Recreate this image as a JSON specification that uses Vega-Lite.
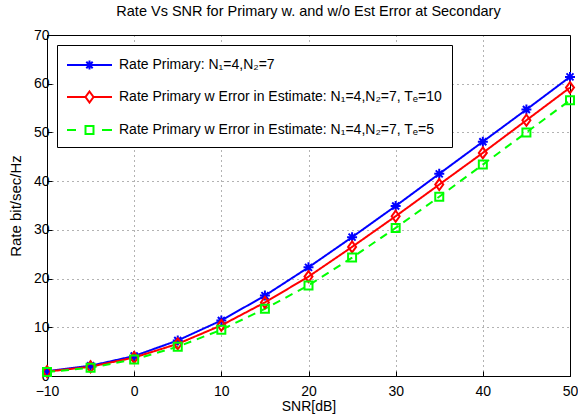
{
  "$schema": "https://vega.github.io/schema/vega-lite/v6.json",
  "width": 523,
  "height": 341,
  "autosize": "none",
  "padding": {"left": 47, "top": 35, "right": 8, "bottom": 39},
  "background": "white",
  "title": {"text": "Rate Vs SNR for Primary w. and w/o Est Error at Secondary", "fontSize": 14.5, "fontWeight": "normal", "font": "Liberation Sans", "offset": 9, "color": "black"},
  "config": {
    "font": "Liberation Sans",
    "view": {"stroke": "black", "strokeWidth": 1},
    "axis": {
      "labelFont": "Liberation Sans", "labelFontSize": 14, "labelColor": "black", "labelFlush": false, "labelOverlap": false,
      "titleFont": "Liberation Sans", "titleFontSize": 15, "titleFontWeight": "normal", "titleColor": "black",
      "domainColor": "black", "tickColor": "black", "tickSize": -5, "labelPadding": 4,
      "grid": true, "gridColor": "black", "gridDash": [1, 4], "gridOpacity": 0.6
    }
  },
  "data": {"values": [
    {"snr": -10, "rate": 1.0, "s": "A"}, {"snr": -5, "rate": 2.1, "s": "A"}, {"snr": 0, "rate": 4.1, "s": "A"},
    {"snr": 5, "rate": 7.3, "s": "A"}, {"snr": 10, "rate": 11.4, "s": "A"}, {"snr": 15, "rate": 16.5, "s": "A"},
    {"snr": 20, "rate": 22.3, "s": "A"}, {"snr": 25, "rate": 28.5, "s": "A"}, {"snr": 30, "rate": 34.9, "s": "A"},
    {"snr": 35, "rate": 41.5, "s": "A"}, {"snr": 40, "rate": 48.1, "s": "A"}, {"snr": 45, "rate": 54.7, "s": "A"},
    {"snr": 50, "rate": 61.4, "s": "A"},
    {"snr": -10, "rate": 0.9, "s": "B"}, {"snr": -5, "rate": 1.9, "s": "B"}, {"snr": 0, "rate": 3.8, "s": "B"},
    {"snr": 5, "rate": 6.6, "s": "B"}, {"snr": 10, "rate": 10.4, "s": "B"}, {"snr": 15, "rate": 15.1, "s": "B"},
    {"snr": 20, "rate": 20.4, "s": "B"}, {"snr": 25, "rate": 26.5, "s": "B"}, {"snr": 30, "rate": 32.8, "s": "B"},
    {"snr": 35, "rate": 39.3, "s": "B"}, {"snr": 40, "rate": 45.8, "s": "B"}, {"snr": 45, "rate": 52.5, "s": "B"},
    {"snr": 50, "rate": 59.2, "s": "B"},
    {"snr": -10, "rate": 0.8, "s": "C"}, {"snr": -5, "rate": 1.7, "s": "C"}, {"snr": 0, "rate": 3.4, "s": "C"},
    {"snr": 5, "rate": 6.0, "s": "C"}, {"snr": 10, "rate": 9.5, "s": "C"}, {"snr": 15, "rate": 13.8, "s": "C"},
    {"snr": 20, "rate": 18.6, "s": "C"}, {"snr": 25, "rate": 24.3, "s": "C"}, {"snr": 30, "rate": 30.4, "s": "C"},
    {"snr": 35, "rate": 36.8, "s": "C"}, {"snr": 40, "rate": 43.4, "s": "C"}, {"snr": 45, "rate": 50.0, "s": "C"},
    {"snr": 50, "rate": 56.6, "s": "C"}
  ]},
  "encoding": {
    "x": {"field": "snr", "type": "quantitative", "title": "SNR[dB]", "scale": {"domain": [-10, 50], "nice": false}, "axis": {"values": [-10, 0, 10, 20, 30, 40, 50], "labelPadding": 13, "titlePadding": 1, "titleFontSize": 14}},
    "y": {"field": "rate", "type": "quantitative", "title": "Rate bit/sec/Hz", "scale": {"domain": [0, 70], "nice": false}, "axis": {"values": [0, 10, 20, 30, 40, 50, 60, 70], "labelPadding": 3, "titlePadding": 10}}
  },
  "layer": [
    {
      "mark": {"type": "line", "strokeWidth": 2},
      "encoding": {
        "color": {"field": "s", "type": "nominal", "scale": {"domain": ["A", "B", "C"], "range": ["#0000ff", "#ff0000", "#00ff00"]}, "legend": null},
        "strokeDash": {"field": "s", "type": "nominal", "scale": {"domain": ["A", "B", "C"], "range": [[1, 0], [1, 0], [8, 6]]}, "legend": null}
      }
    },
    {
      "mark": {"type": "point", "filled": false, "strokeWidth": 2, "size": 100, "opacity": 1},
      "encoding": {
        "color": {"field": "s", "type": "nominal", "scale": {"domain": ["A", "B", "C"], "range": ["#0000ff", "#ff0000", "#00ff00"]}, "legend": null},
        "shape": {"field": "s", "type": "nominal", "scale": {"domain": ["A", "B", "C"], "range": [
          "M-1,0L1,0M0,-1L0,1M-0.7,-0.7L0.7,0.7M-0.7,0.7L0.7,-0.7",
          "M0,-1.1L0.8,0L0,1.1L-0.8,0Z",
          "M-0.8,-0.8L0.8,-0.8L0.8,0.8L-0.8,0.8Z"
        ]}, "legend": null}
      }
    },
    {
      "transform": [{"filter": "datum.snr > 1000"}],
      "mark": {"type": "point", "filled": false, "strokeWidth": 2, "size": 400, "opacity": 1},
      "encoding": {
        "color": {"field": "s", "type": "nominal", "scale": {"domain": ["A", "B", "C"], "range": ["#0000ff", "#ff0000", "#00ff00"]},
          "legend": {"orient": "top-left", "title": null, "offset": 10, "padding": 9, "rowPadding": 12, "labelOffset": 31,
            "labelFont": "Liberation Sans", "labelFontSize": 14, "labelColor": "black", "labelLimit": 500,
            "strokeColor": "black", "fillColor": "white", "symbolSize": 400, "symbolStrokeWidth": 2,
            "labelExpr": "datum.value == 'A' ? 'Rate Primary: N₁=4,N₂=7' : datum.value == 'B' ? 'Rate Primary w Error in Estimate: N₁=4,N₂=7, Tₑ=10' : 'Rate Primary w Error in Estimate: N₁=4,N₂=7, Tₑ=5'"}},
        "shape": {"field": "s", "type": "nominal", "scale": {"domain": ["A", "B", "C"], "range": [
          "M-1,0L3.5,0M1.25,-0.45L1.25,0.45M0.93,-0.32L1.57,0.32M0.93,0.32L1.57,-0.32",
          "M-1,0L0.85,0M1.65,0L3.5,0M1.25,-0.55L1.65,0L1.25,0.55L0.85,0Z",
          "M-1,0L-0.1,0M2.5,0L3.5,0M0.85,-0.4L1.65,-0.4L1.65,0.4L0.85,0.4Z"
        ]},
          "legend": {"orient": "top-left", "title": null, "offset": 10, "padding": 9, "rowPadding": 12, "labelOffset": 31,
            "labelFont": "Liberation Sans", "labelFontSize": 14, "labelColor": "black", "labelLimit": 500,
            "strokeColor": "black", "fillColor": "white", "symbolSize": 400, "symbolStrokeWidth": 2,
            "labelExpr": "datum.value == 'A' ? 'Rate Primary: N₁=4,N₂=7' : datum.value == 'B' ? 'Rate Primary w Error in Estimate: N₁=4,N₂=7, Tₑ=10' : 'Rate Primary w Error in Estimate: N₁=4,N₂=7, Tₑ=5'"}}
      }
    }
  ],
  "resolve": {"scale": {"shape": "independent", "color": "independent"}}
}
